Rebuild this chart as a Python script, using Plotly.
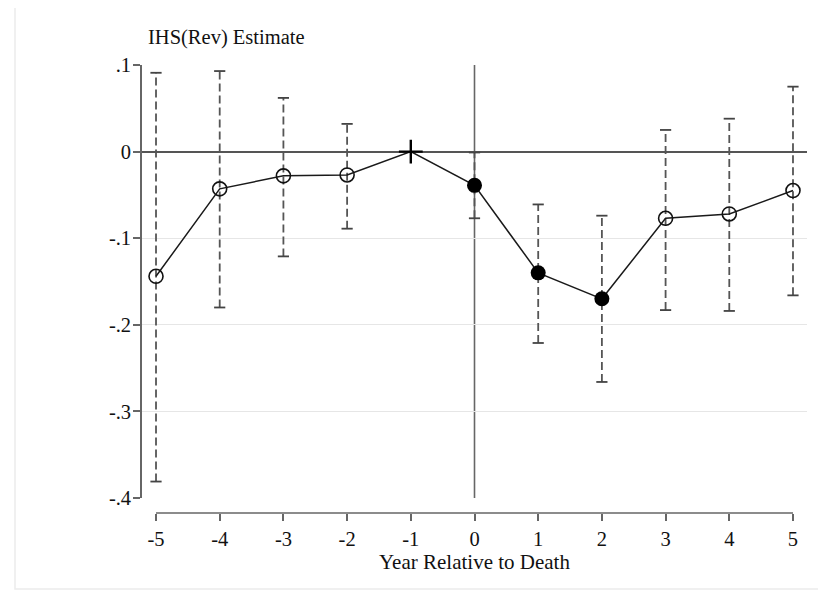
import plotly.graph_objects as go

years = [-5, -4, -3, -2, -1, 0, 1, 2, 3, 4, 5]
estimate = [-0.144, -0.043, -0.028, -0.027, 0.0, -0.039, -0.140, -0.170, -0.077, -0.072, -0.045]
ci_low = [-0.381, -0.180, -0.121, -0.089, None, -0.077, -0.221, -0.266, -0.183, -0.184, -0.166]
ci_high = [0.091, 0.093, 0.062, 0.032, None, -0.001, -0.061, -0.074, 0.025, 0.038, 0.075]
significant = [False, False, False, False, None, True, True, True, False, False, False]
reference_year = -1
y_ticks = [0.1, 0.0, -0.1, -0.2, -0.3, -0.4]
y_tick_labels = [".1", "0", "-.1", "-.2", "-.3", "-.4"]
x_ticks = [-5, -4, -3, -2, -1, 0, 1, 2, 3, 4, 5]

FONT = "Liberation Serif, Times New Roman, serif"
OFF = 8  # page body margin offset
W, H = 826 - OFF, 592 - OFF
L, R, T = 142 - OFF, 826 - 807, 65 - OFF
AXIS_Y = 513 - OFF          # pixel row of the x axis line
B = H - AXIS_Y
plot_w = W - L - R
plot_h = H - T - B
y_bottom_px = 498 - OFF     # pixel row of y = -0.4
ydom0 = (AXIS_Y - y_bottom_px) / plot_h


def px_x(p):
    return (p - OFF - L) / plot_w


def px_y(p):
    return (AXIS_Y - (p - OFF)) / plot_h


fig = go.Figure()

# Dashed CI spikes
ex, ey = [], []
cx, cy = [], []
for x, lo, hi in zip(years, ci_low, ci_high):
    if lo is None:
        continue
    ex += [x, x, None]
    ey += [lo, hi, None]
    cx += [x, x]
    cy += [lo, hi]
fig.add_trace(go.Scatter(x=ex, y=ey, mode="lines",
                         line=dict(color="#555555", width=1.8, dash="8px,4px"),
                         hoverinfo="skip", showlegend=False))
fig.add_trace(go.Scatter(x=cx, y=cy, mode="markers",
                         marker=dict(symbol="line-ew", size=8, color="#444444",
                                     line=dict(color="#444444", width=1.8)),
                         hoverinfo="skip", showlegend=False))

# Connecting line
fig.add_trace(go.Scatter(x=years, y=estimate, mode="lines",
                         line=dict(color="#1a1a1a", width=1.5),
                         showlegend=False))

# Hollow (insignificant)
hx = [x for x, s in zip(years, significant) if s is False]
hy = [e for e, s in zip(estimate, significant) if s is False]
fig.add_trace(go.Scatter(x=hx, y=hy, mode="markers",
                         marker=dict(symbol="circle-open", size=14, color="#111111",
                                     line=dict(color="#111111", width=1.6)),
                         showlegend=False))
# Filled (significant)
fx = [x for x, s in zip(years, significant) if s is True]
fy = [e for e, s in zip(estimate, significant) if s is True]
fig.add_trace(go.Scatter(x=fx, y=fy, mode="markers",
                         marker=dict(symbol="circle", size=15, color="#000000"),
                         showlegend=False))
# Reference year
ri = years.index(reference_year)
fig.add_trace(go.Scatter(x=[years[ri]], y=[estimate[ri]], mode="markers",
                         marker=dict(symbol="cross-thin-open", size=17, color="#000000",
                                     line=dict(color="#000000", width=2.4)),
                         showlegend=False))

# Vertical reference line at year 0
fig.add_shape(type="line", xref="x", yref="y", x0=0, x1=0, y0=-0.4, y1=0.1,
              line=dict(color="#666666", width=1.6), layer="below")
# X axis line (only between first and last tick)
fig.add_shape(type="line", xref="x", yref="paper", x0=min(x_ticks), x1=max(x_ticks),
              y0=0, y1=0, line=dict(color="#666666", width=1.6))
# Outer faint border
fig.add_shape(type="rect", xref="paper", yref="paper",
              x0=px_x(15), x1=px_x(823), y0=px_y(589), y1=px_y(3),
              line=dict(color="#ececec", width=1.5), layer="below")

fig.update_layout(
    width=W, height=H,
    margin=dict(l=L, r=R, t=T, b=B),
    paper_bgcolor="white", plot_bgcolor="white",
    font=dict(family=FONT, size=20.5, color="#111111"),
    xaxis=dict(range=[-5.22, 5.22], tickvals=x_ticks,
               ticktext=[str(v) for v in x_ticks],
               anchor="free", position=0,
               showgrid=False, zeroline=False, showline=False,
               ticks="outside", ticklen=7, tickwidth=1.6, tickcolor="#666666",
               title=dict(text="Year Relative to Death", standoff=0,
                          font=dict(family=FONT, size=21))),
    yaxis=dict(range=[-0.4, 0.1], domain=[ydom0, 1],
               tickvals=y_ticks, ticktext=y_tick_labels,
               showgrid=True, gridcolor="#e6e6e6", gridwidth=1.2,
               zeroline=True, zerolinecolor="#555555", zerolinewidth=1.6,
               showline=True, linecolor="#666666", linewidth=1.6,
               ticks="outside", ticklen=7, tickwidth=1.6, tickcolor="#666666",
               ticklabelstandoff=-2),
    annotations=[dict(text="IHS(Rev) Estimate", xref="paper", yref="paper",
                      x=px_x(146), y=px_y(37),
                      xanchor="left", yanchor="middle", showarrow=False,
                      font=dict(family=FONT, size=20.5, color="#111111"))],
)

fig.write_html("out.html")
